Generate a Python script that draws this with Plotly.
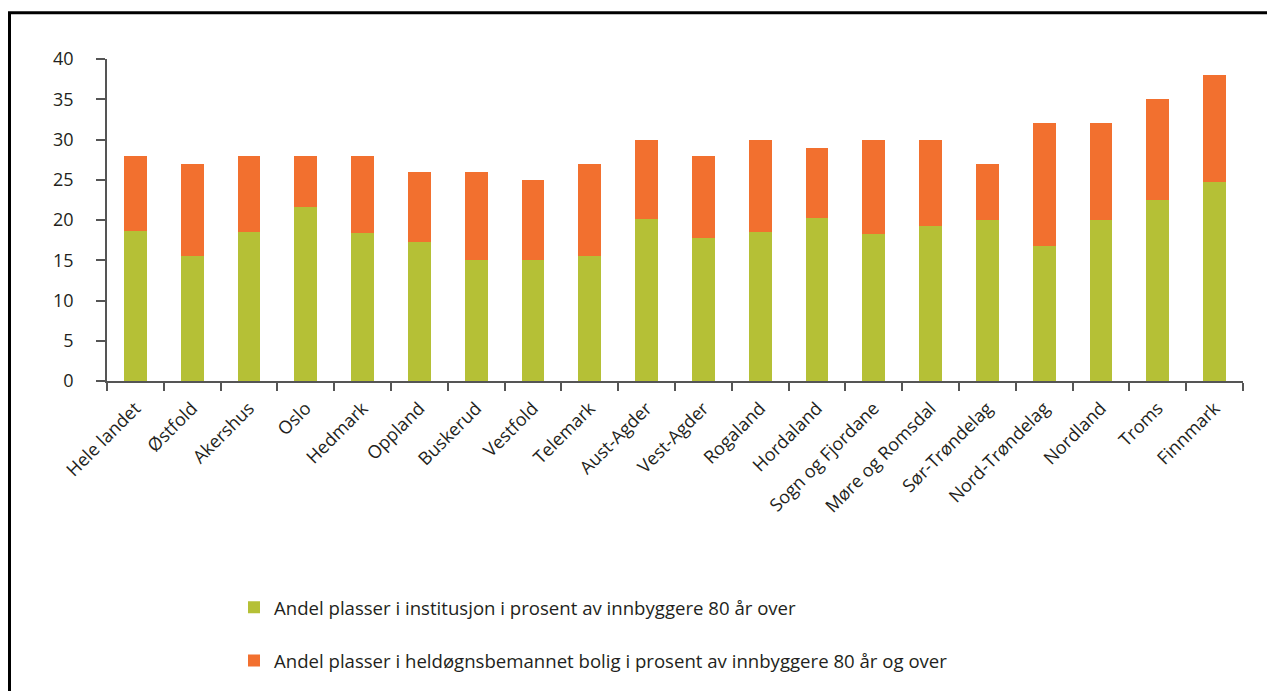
import plotly.graph_objects as go

categories = ["Hele landet", "Østfold", "Akershus", "Oslo", "Hedmark", "Oppland", "Buskerud",
              "Vestfold", "Telemark", "Aust-Agder", "Vest-Agder", "Rogaland", "Hordaland",
              "Sogn og Fjordane", "Møre og Romsdal", "Sør-Trøndelag", "Nord-Trøndelag",
              "Nordland", "Troms", "Finnmark"]
institusjon = [18.6, 15.5, 18.5, 21.6, 18.4, 17.3, 15.0, 15.0, 15.5, 20.1, 17.8, 18.5, 20.2,
               18.2, 19.3, 20.0, 16.8, 20.0, 22.5, 24.7]
totals = [28, 27, 28, 28, 28, 26, 26, 25, 27, 30, 28, 30, 29, 30, 30, 27, 32, 32, 35, 38]
bolig = [round(t - i, 2) for t, i in zip(totals, institusjon)]

name_inst = "Andel plasser i institusjon i prosent av innbyggere 80 år over"
name_bolig = "Andel plasser i heldøgnsbemannet bolig i prosent av innbyggere 80 år og over"

GREEN = "#b5c036"
ORANGE = "#f2702f"
FONT = "Open Sans, Noto Sans, sans-serif"
FS = 18
LFS = 18.6

fig = go.Figure()
fig.add_trace(go.Bar(x=categories, y=institusjon, name=name_inst, marker_color=GREEN,
                     marker_line_width=0, legendgroup="a"))
fig.add_trace(go.Bar(x=categories, y=bolig, name=name_bolig, marker_color=ORANGE,
                     marker_line_width=0, legendgroup="b"))

# page body has an 8px offset; work in window pixel coordinates
OFF = 8
W, H = 1275 - OFF, 691 - OFF
L = 107 - OFF
T = 59 - OFF
R = 1275 - 1243
B = 691 - 383
pw = W - L - R
ph = H - T - B

def px_x(px):
    return (px - OFF - L) / pw

def px_y(py):
    return (H - B - (py - OFF)) / ph

fig.update_layout(
    width=W, height=H,
    barmode="stack",
    bargap=0.6,
    margin=dict(l=L, r=R, t=T, b=B, pad=0),
    plot_bgcolor="white",
    paper_bgcolor="white",
    font=dict(family=FONT, size=FS, color="#231f20"),
    showlegend=True,
    legend=dict(
        x=px_x(234), y=px_y(592), xanchor="left", yanchor="top",
        orientation="v", traceorder="grouped", tracegroupgap=26,
        font=dict(family=FONT, size=LFS, color="#231f20"),
        itemwidth=30, bgcolor="rgba(0,0,0,0)",
    ),
    xaxis=dict(
        showline=True, linecolor="#555555", linewidth=1.5,
        ticks="outside", ticklen=8, tickcolor="#555555", tickwidth=1.5,
        tickson="boundaries", tickangle=-45, ticklabelstandoff=8,
        tickfont=dict(family=FONT, size=FS, color="#231f20"),
        showgrid=False, zeroline=False,
    ),
    yaxis=dict(
        range=[0, 40], tickvals=[0, 5, 10, 15, 20, 25, 30, 35, 40],
        showline=True, linecolor="#555555", linewidth=1.5,
        ticks="outside", ticklen=9, tickcolor="#555555", tickwidth=1.5,
        ticklabelstandoff=19,
        tickfont=dict(family=FONT, size=FS, color="#231f20"),
        showgrid=False, zeroline=False,
    ),
    shapes=[dict(
        type="rect", xref="paper", yref="paper",
        x0=px_x(9.5), x1=px_x(1300), y0=px_y(12.5), y1=px_y(720),
        line=dict(color="black", width=3), fillcolor="rgba(0,0,0,0)", layer="below",
    )],
)

fig.write_html("out.html")
